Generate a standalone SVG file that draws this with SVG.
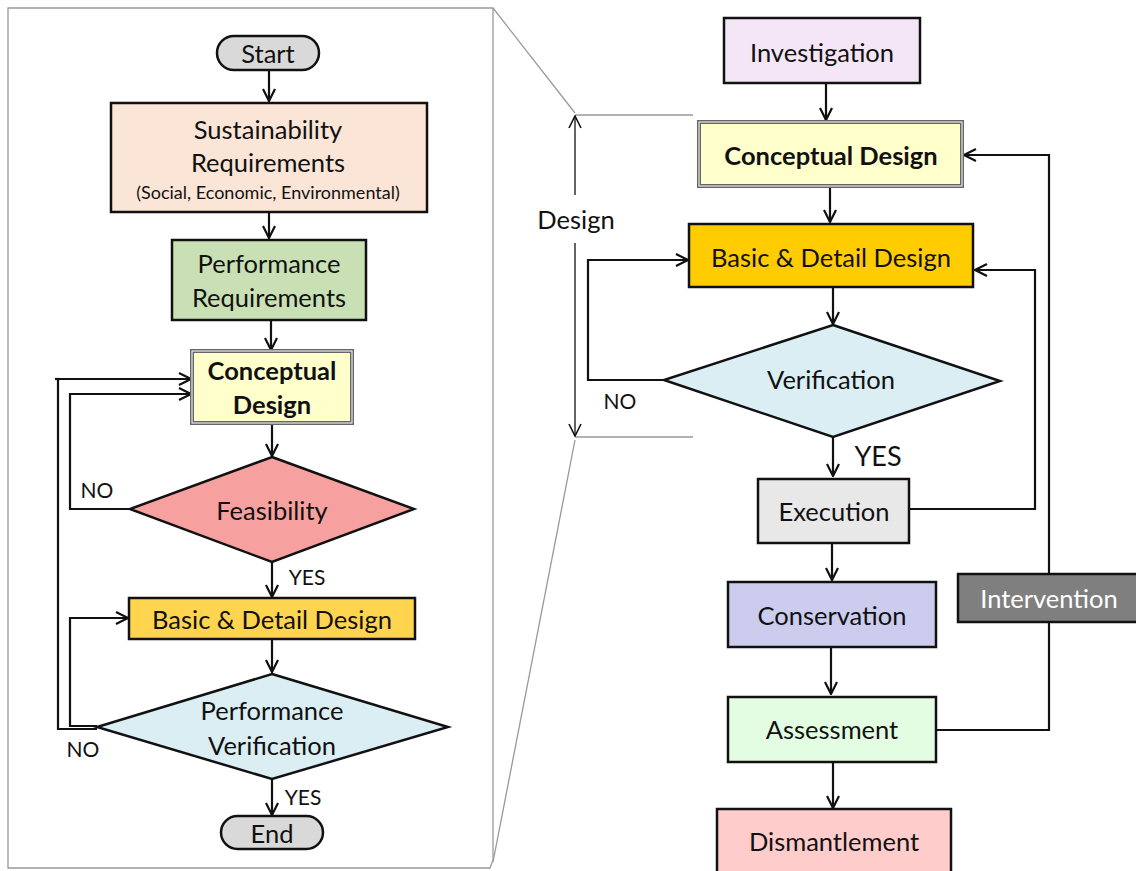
<svg xmlns="http://www.w3.org/2000/svg" width="1136" height="871" viewBox="0 0 1136 871">
<style>
text{font-family:Lato,"Open Sans","Liberation Sans",sans-serif;fill:#111;text-anchor:middle;dominant-baseline:central}
.box{stroke:#111;stroke-width:2.5}
.ln{fill:none;stroke:#111;stroke-width:2.2}
.gr{fill:none;stroke:#999;stroke-width:1.3}
.t22{font-size:25.5px}
.t24{font-size:27px}
.sm{font-size:21px}
.b{font-weight:bold}
</style>
<defs>
<marker id="a" viewBox="0 0 14 14" markerWidth="14" markerHeight="14" refX="13" refY="7" orient="auto" markerUnits="userSpaceOnUse">
<path d="M1,1 L13,7 L1,13" fill="none" stroke="#111" stroke-width="2.2"/>
</marker>
<marker id="g" viewBox="0 0 14 14" markerWidth="14" markerHeight="14" refX="13" refY="7" orient="auto" markerUnits="userSpaceOnUse">
<path d="M1,1 L13,7 L1,13" fill="none" stroke="#111" stroke-width="1.6"/>
</marker>
</defs>
<rect width="1136" height="871" fill="#fff"/>
<g id="panel">
<path class="gr" d="M8,8 H493 V860 L490,868 H8 Z"/>
<path class="gr" d="M493,8 L575,113 M575,115 H693 M575,437 H693 M575,440 L493,862"/>
</g>
<g id="connectors">
<path class="ln" d="M269,70 V101" marker-end="url(#a)"/>
<path class="ln" d="M269,212 V238" marker-end="url(#a)"/>
<path class="ln" d="M271,320 V350" marker-end="url(#a)"/>
<path class="ln" d="M272,423 V456" marker-end="url(#a)"/>
<path class="ln" d="M130,509 H70 V394 H191" marker-end="url(#a)"/>
<path class="ln" d="M272,562 V597" marker-end="url(#a)"/>
<path class="ln" d="M272,639 V672" marker-end="url(#a)"/>
<path class="ln" d="M97,726 H70 V618 H128" marker-end="url(#a)"/>
<path class="ln" d="M97,729 H58 V379 H191" marker-end="url(#a)"/>
<path class="ln" d="M55,379 H60"/>
<path class="ln" d="M272,779 V815" marker-end="url(#a)"/>
<path class="ln" d="M826,84 V120" marker-end="url(#a)"/>
<path class="ln" d="M830,186 V222" marker-end="url(#a)"/>
<path class="ln" d="M833,288 V324" marker-end="url(#a)"/>
<path class="ln" d="M664,380 H588 V260 H688" marker-end="url(#a)"/>
<path class="ln" d="M833,437 V476" marker-end="url(#a)"/>
<path class="ln" d="M909,509 H1035 V270 H975" marker-end="url(#a)"/>
<path class="ln" d="M832,543 V580" marker-end="url(#a)"/>
<path class="ln" d="M831,647 V694" marker-end="url(#a)"/>
<path class="ln" d="M936,730 H1049 V622 M1049,574 V155 H964" marker-end="url(#a)"/>
<path class="ln" d="M833,762 V808" marker-end="url(#a)"/>
<path d="M575,195 V116" fill="none" stroke="#111" stroke-width="1.3" marker-end="url(#g)"/>
<path d="M575,243 V436" fill="none" stroke="#111" stroke-width="1.3" marker-end="url(#g)"/>
<text x="576" y="219" class="t22">Design</text>
<text x="97" y="489" class="sm">NO</text>
<text x="307" y="576" class="sm">YES</text>
<text x="83" y="748" class="sm">NO</text>
<text x="303" y="796" class="sm">YES</text>
<text x="620" y="400" class="sm">NO</text>
<text x="878" y="455" class="t24">YES</text>
</g>
<g id="start">
<rect class="box" x="217" y="36" width="102" height="34" rx="17" fill="#d9d9d9"/>
<text x="268" y="53" class="t22">Start</text>
</g>
<g id="sustainability">
<rect class="box" x="111" y="103" width="316" height="109" fill="#fbe5d6"/>
<text x="268" y="129" class="t22">Sustainability</text>
<text x="268" y="162" class="t22">Requirements</text>
<text x="268" y="192" style="font-size:18px">(Social, Economic, Environmental)</text>
</g>
<g id="performance-req">
<rect class="box" x="172" y="240" width="194" height="80" fill="#c9e0b5"/>
<text x="269" y="263" class="t22">Performance</text>
<text x="269" y="297" class="t22">Requirements</text>
</g>
<g id="conceptual-left">
<rect x="192" y="351" width="160" height="72" fill="#ffffcc" stroke="#666" stroke-width="4"/>
<rect x="192" y="351" width="160" height="72" fill="none" stroke="#fff" stroke-width="1"/>
<text x="272" y="370" class="t22 b">Conceptual</text>
<text x="272" y="404" class="t22 b">Design</text>
</g>
<g id="feasibility">
<path class="box" d="M272,457 L414,509 L272,562 L130,509 Z" fill="#f7a0a0"/>
<text x="272" y="510" class="t22">Feasibility</text>
</g>
<g id="basic-left">
<rect class="box" x="129" y="598" width="286" height="41" fill="#ffd44f"/>
<text x="272" y="619" class="t22">Basic &amp; Detail Design</text>
</g>
<g id="perf-verification">
<path class="box" d="M272,674 L448,727 L272,779 L97,727 Z" fill="#daeef3"/>
<text x="272" y="710" class="t22">Performance</text>
<text x="272" y="745" class="t22">Verification</text>
</g>
<g id="end">
<rect class="box" x="221" y="816" width="102" height="33" rx="16.5" fill="#d9d9d9"/>
<text x="272" y="833" class="t22">End</text>
</g>
<g id="investigation">
<rect class="box" x="724" y="18" width="196" height="65" fill="#f4e6f6"/>
<text x="822" y="52" class="t22">Investigation</text>
</g>
<g id="conceptual-right">
<rect x="699" y="122" width="263" height="64" fill="#ffffcc" stroke="#666" stroke-width="4"/>
<rect x="699" y="122" width="263" height="64" fill="none" stroke="#fff" stroke-width="1"/>
<text x="831" y="155" class="t22 b">Conceptual Design</text>
</g>
<g id="basic-right">
<rect class="box" x="689" y="224" width="284" height="63" fill="#ffcc00"/>
<text x="831" y="257" class="t22">Basic &amp; Detail Design</text>
</g>
<g id="verification">
<path class="box" d="M833,325 L1000,381 L833,437 L664,380 Z" fill="#daeef3"/>
<text x="831" y="379" class="t22">Verification</text>
</g>
<g id="execution">
<rect class="box" x="758" y="479" width="151" height="64" fill="#e8e8e8"/>
<text x="834" y="511" class="t22">Execution</text>
</g>
<g id="intervention">
<rect class="box" x="958" y="574" width="185" height="48" fill="#7f7f7f"/>
<text x="1049" y="598" class="t22" style="fill:#fff">Intervention</text>
</g>
<g id="conservation">
<rect class="box" x="728" y="582" width="208" height="65" fill="#ccccee"/>
<text x="832" y="615" class="t22">Conservation</text>
</g>
<g id="assessment">
<rect class="box" x="728" y="697" width="208" height="65" fill="#e2fde2"/>
<text x="832" y="729" class="t22">Assessment</text>
</g>
<g id="dismantlement">
<rect class="box" x="717" y="809" width="234" height="70" fill="#ffcccc"/>
<text x="834" y="841" class="t22">Dismantlement</text>
</g>
</svg>
